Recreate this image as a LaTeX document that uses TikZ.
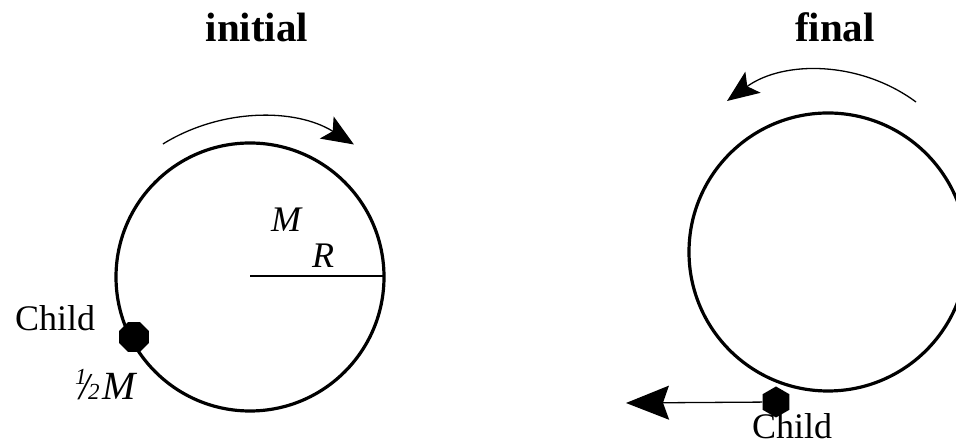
\documentclass[tikz,border=0pt]{standalone}
\usepackage{fontspec}
\setmainfont{Liberation Serif}
\usetikzlibrary{arrows.meta,shapes.geometric}
\begin{document}
\begin{tikzpicture}[x=1pt,y=1pt,
  wheel/.style={line width=3.2pt},
  thinline/.style={line width=1.3pt},
  bigtip/.style={-{Stealth[length=32pt,width=26pt,inset=7pt]}},
  titletext/.style={font=\fontsize{41}{41}\selectfont\bfseries, anchor=base, inner sep=0pt},
  labeltext/.style={font=\fontsize{36}{36}\selectfont, anchor=base west, inner sep=0pt},
  mathtext/.style={font=\fontsize{36}{36}\selectfont\itshape, anchor=base west, inner sep=0pt},
  dot/.style={regular polygon, fill=black, draw=none, inner sep=0pt, minimum size=32pt}]
\useasboundingbox (0,0) rectangle (956,446);
\clip (0,0) rectangle (956,446);
% titles
\node[titletext] (tinit) at (257,404) {initial};
\node[titletext] (tfin) at (835,404) {final};
% left wheel
\coordinate (cl) at (250,169);
\draw[wheel] (cl) circle[radius=134];
\coordinate (rl) at (384,170);
\draw[line width=1.5pt] (250,170) -- (rl);
\node[mathtext] (Mlab) at (271,214) {M};
\node[mathtext] (Rlab) at (312,178) {R};
\draw[thinline,bigtip] (162.9,302) arc[start angle=121.7, end angle=58, radius=181];
\node[dot, regular polygon sides=8] (childL) at (134,109) {};
\node[labeltext] (childLtxt) at (15,115) {Child};
\node[mathtext] (halfM) at (75,46) {\rlap{\raisebox{15pt}{\fontsize{23}{23}\selectfont 1}}\kern4pt\rlap{\fontsize{38}{38}\selectfont/}\kern9pt{\fontsize{23}{23}\selectfont 2}\kern3pt{\fontsize{40}{40}\selectfont M}};
% right wheel
\coordinate (cr) at (828,194);
\draw[wheel] (cr) circle[radius=139];
\draw[thinline,bigtip] (916,344) arc[start angle=53.5, end angle=125.9, radius=160];
\node[dot, regular polygon sides=6, shape border rotate=30, minimum size=31pt] (childR) at (776,44) {};
\coordinate (tipR) at (626,43);
\draw[thinline,-{Stealth[length=43pt,width=34pt,inset=6pt]}] (childR) -- (tipR);
\node[labeltext, anchor=base] (childRtxt) at (792,7) {Child};
\end{tikzpicture}
\end{document}
